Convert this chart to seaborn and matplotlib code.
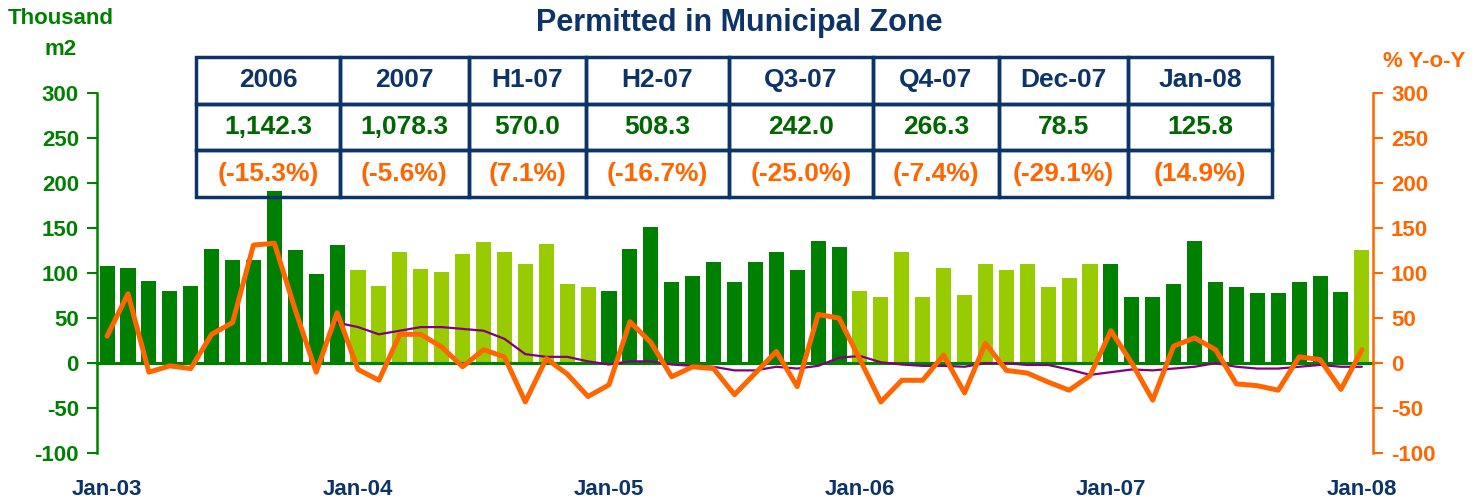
import numpy as np
import pandas as pd
import matplotlib
matplotlib.use('Agg')
import matplotlib.pyplot as plt
import matplotlib.transforms as mtransforms
import seaborn as sns

sns.set_style('white')
plt.rcParams['font.family'] = ['Liberation Sans', 'DejaVu Sans']
plt.rcParams['font.weight'] = 'bold'
plt.rcParams['axes.unicode_minus'] = False

# monthly permitted area, thousand m2 (Jan-03 .. Jan-08)
area = [108, 106, 91, 80, 86, 127, 114, 114, 191, 125, 99, 131,
        103, 86, 123, 105, 101, 121, 134, 123, 110, 132, 88, 84,
        80, 127, 151, 90, 97, 112, 90, 112, 123, 103, 136, 129,
        80, 73, 123, 73, 106, 76, 110, 103, 110, 84, 95, 110,
        110, 73, 73, 88, 136, 90, 84, 78, 78, 90, 97, 78.5, 125.8]
# year-on-year change, %
yoy = [30, 77, -10, -3, -6, 32, 45, 131, 133, 59, -10, 56,
       -7, -19, 32, 32, 18, -4, 15, 7, -43, 5, -12, -37,
       -24, 46, 23, -15, -4, -6, -35, -11, 13, -26, 54, 50,
       4, -43, -19, -19, 9, -33, 22, -8, -11, -21, -30, -14,
       36, 0, -41, 19, 28, 15, -23, -25, -30, 7, 4, -29.1, 14.9]
# 12-month trend of the y-o-y change, from Dec-03
trend_start = 11
trend = [45, 40, 32, 36, 40, 40, 38, 36, 27, 10, 7, 7, 2,
         -1.5, 2, 2, -1.5, -3, -4, -8, -8, -4, -6, -3, 6,
         8, 1, -1.5, -3, -3, -4, 0, 0, -2, -2, -7, -13,
         -10, -7, -8, -6, -4, 0, -4, -6, -6, -4, -2, -4, -4]

year_labels = ['Jan-03', 'Jan-04', 'Jan-05', 'Jan-06', 'Jan-07', 'Jan-08']

tbl_head = ['2006', '2007', 'H1-07', 'H2-07', 'Q3-07', 'Q4-07', 'Dec-07', 'Jan-08']
tbl_vals = ['1,142.3', '1,078.3', '570.0', '508.3', '242.0', '266.3', '78.5', '125.8']
tbl_pct = ['(-15.3%)', '(-5.6%)', '(7.1%)', '(-16.7%)', '(-25.0%)', '(-7.4%)', '(-29.1%)', '(14.9%)']

GREEN = '#008000'
LIGHT = '#99CC00'
ORANGE = '#FF6600'
PURPLE = '#800080'
NAVY = '#0D3468'

months = pd.date_range('2003-01-01', periods=len(area), freq='MS').strftime('%b-%y').tolist()
df = pd.DataFrame({'month': months, 'area': area,
                   'shade': ['dark' if (i // 12) % 2 == 0 else 'light' for i in range(len(area))]})

fig = plt.figure(figsize=(14.79, 5.04), dpi=100)
ax = fig.add_axes([0.0656, 0.1006, 0.8627, 0.7154])

sns.barplot(data=df, x='month', y='area', hue='shade', order=months,
            palette={'dark': GREEN, 'light': LIGHT}, dodge=False, legend=False,
            saturation=1, width=0.72, linewidth=0, ax=ax)
ax.set_xlim(-0.48, 60.53)
ax.set_ylim(-100, 300)
ax.set_yticks(range(-100, 301, 50))
ax.set_xlabel('')
ax.set_ylabel('')
for s in ['top', 'right']:
    ax.spines[s].set_visible(False)
ax.spines['left'].set_color(GREEN)
ax.spines['left'].set_linewidth(1.8)
ax.spines['bottom'].set_position(('data', 0))
ax.spines['bottom'].set_color(GREEN)
ax.spines['bottom'].set_linewidth(2.2)
ax.set_xticks(np.arange(-0.5, 61, 6))
ax.set_xticklabels([])
ax.tick_params(axis='x', direction='inout', length=14, width=1.5, color=GREEN)
ax.tick_params(axis='y', direction='out', length=7, width=1.5, color=GREEN,
               labelcolor=GREEN, labelsize=16, pad=6)

ax2 = ax.twinx()
sns.lineplot(x=np.arange(trend_start, trend_start + len(trend)), y=trend,
             color=PURPLE, linewidth=1.6, ax=ax2)
sns.lineplot(x=np.arange(len(yoy)), y=yoy, color=ORANGE, linewidth=3.6, ax=ax2)
ax2.set_ylim(-100, 300)
ax2.set_yticks(range(-100, 301, 50))
ax2.set_ylabel('')
for s in ['top', 'left', 'bottom']:
    ax2.spines[s].set_visible(False)
ax2.spines['right'].set_color(ORANGE)
ax2.spines['right'].set_linewidth(1.8)
ax2.tick_params(axis='y', direction='out', length=7, width=1.5, color=ORANGE,
                labelcolor=ORANGE, labelsize=16, pad=6)
ax2.set_xlim(-0.48, 60.53)

# year labels along the bottom
trans = mtransforms.blended_transform_factory(ax.transData, fig.transFigure)
for k, lab in enumerate(year_labels):
    ax.text(k * 12, 0.028, lab, transform=trans, ha='center', va='center',
            color=NAVY, fontsize=16, fontweight='bold')

fig.text(0.5, 0.955, 'Permitted in Municipal Zone', ha='center', va='center',
         color=NAVY, fontsize=22, fontweight='bold')
fig.text(0.041, 0.963, 'Thousand', ha='center', va='center', color=GREEN,
         fontsize=16, fontweight='bold')
fig.text(0.041, 0.902, 'm2', ha='center', va='center', color=GREEN,
         fontsize=16, fontweight='bold')
fig.text(0.963, 0.877, '% Y-o-Y', ha='center', va='center', color=ORANGE,
         fontsize=16, fontweight='bold')

# summary table
col_w = np.array([144, 129, 117, 143, 144, 126, 129, 144], dtype=float)
tax = fig.add_axes([0.1325, 0.609, 0.7275, 0.278])
tax.axis('off')
tbl = tax.table(cellText=[tbl_head, tbl_vals, tbl_pct], colWidths=col_w / col_w.sum(),
                cellLoc='center', bbox=[0, 0, 1, 1])
tbl.auto_set_font_size(False)
row_colors = [NAVY, '#006600', ORANGE]
for (r, c), cell in tbl.get_celld().items():
    cell.set_edgecolor(NAVY)
    cell.set_linewidth(2.5)
    cell.set_facecolor('none')
    cell.get_text().set_color(row_colors[r])
    cell.get_text().set_fontsize(19)
    cell.get_text().set_fontweight('bold')

plt.savefig('out.png', dpi=100)
